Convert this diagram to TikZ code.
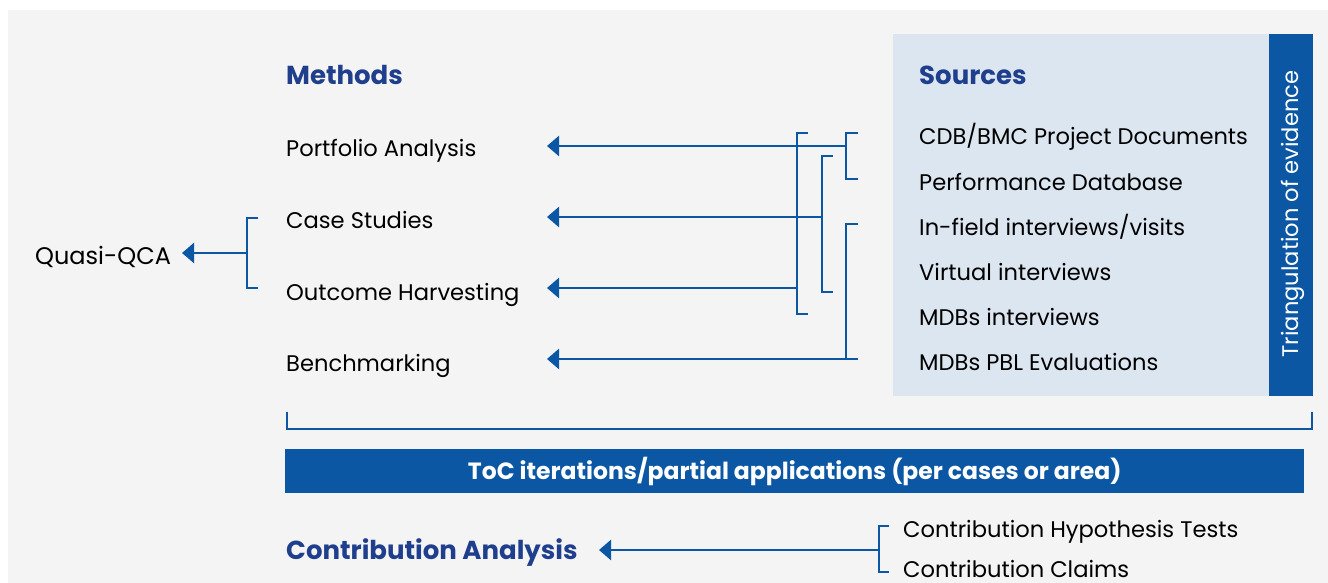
\documentclass[tikz,border=0pt]{standalone}
\usepackage{fontspec}
\setmainfont{Poppins}
\usetikzlibrary{arrows.meta}
\definecolor{pagebg}{HTML}{F4F4F4}
\definecolor{srcbg}{HTML}{DCE6F1}
\definecolor{lineblue}{HTML}{0B57A4}
\definecolor{headblue}{HTML}{1F3E8C}
\begin{document}
\begin{tikzpicture}[x=1pt,y=-1pt,
  conn/.style={draw=lineblue, line width=2.6pt},
  arr/.style={conn, -{Triangle[length=12pt,width=20pt]}},
  item/.style={anchor=base west, inner sep=0pt, font=\fontsize{22.6}{26}\selectfont, text=black},
  head/.style={anchor=base west, inner sep=0pt, font=\fontsize{26}{30}\selectfont\bfseries, text=headblue},
  band/.style={fill=lineblue, draw=none}]
\useasboundingbox (0,0) rectangle (1328,583);
\fill[white] (0,0) rectangle (1328,583);
\fill[pagebg] (8,10) rectangle (1328,583);
% sources panel
\fill[srcbg] (893,34) rectangle (1269,396);
\fill[lineblue] (1269,34) rectangle (1313,396);
\node[rotate=90, inner sep=0pt, text=white, font=\fontsize{22.6}{26}\selectfont] (tri) at (1293,214) {Triangulation of evidence};
% headings
\node[head] (methods) at (286,85) {Methods};
\node[head] (sources) at (919,85) {Sources};
% methods
\node[item] (pa) at (286,157) {Portfolio Analysis};
\node[item] (cs) at (286,228) {Case Studies};
\node[item] (oh) at (286,300) {Outcome Harvesting};
\node[item] (bm) at (286,371) {Benchmarking};
% sources
\node[item] (s1) at (919,145) {CDB/BMC Project Documents};
\node[item] (s2) at (919,190) {Performance Database};
\node[item] (s3) at (919,235) {In-field interviews/visits};
\node[item] (s4) at (919,280) {Virtual interviews};
\node[item] (s5) at (919,325) {MDBs interviews};
\node[item] (s6) at (919,370) {MDBs PBL Evaluations};
% quasi-QCA
\node[item, font=\fontsize{24}{28}\selectfont] (qqca) at (35,264) {Quasi-QCA};
% arrow tips
\coordinate (tpa) at (547,146);
\coordinate (tcs) at (547,217);
\coordinate (toh) at (547,288);
\coordinate (tbm) at (547,359);
\coordinate (tq) at (182,253);
\coordinate (tca) at (599,550);
% bracket B1 (x=797)
\coordinate (b1t) at (797,133);
\coordinate (b1b) at (797,314);
\draw[conn] ([xshift=11pt]b1t) -- (b1t) -- (b1b) -- ([xshift=11pt]b1b);
% bracket B2 (x=822)
\coordinate (b2t) at (822,156);
\coordinate (b2b) at (822,292);
\draw[conn] ([xshift=11pt]b2t) -- (b2t) -- (b2b) -- ([xshift=11pt]b2b);
% bracket B3 (x=846)
\coordinate (b3t) at (846,133);
\coordinate (b3b) at (846,179);
\draw[conn] ([xshift=12pt]b3t) -- (b3t) -- (b3b) -- ([xshift=12pt]b3b);
% bracket B4 (x=846)
\coordinate (b4t) at (846,224);
\coordinate (b4b) at (846,359);
\draw[conn] ([xshift=12pt]b4t) -- (b4t) -- (b4b);
% arrows to methods
\coordinate (apa) at (846,146);
\coordinate (acs) at (822,217);
\coordinate (aoh) at (797,288);
\coordinate (abm) at (858,359);
\draw[arr] (apa) -- (tpa);
\draw[arr] (acs) -- (tcs);
\draw[arr] (aoh) -- (toh);
\draw[arr] (abm) -- (tbm);
% quasi-QCA bracket
\coordinate (bqt) at (247,218);
\coordinate (bqb) at (247,288);
\coordinate (bqm) at (247,253);
\draw[conn] ([xshift=11pt]bqt) -- (bqt) -- (bqb) -- ([xshift=11pt]bqb);
\draw[arr] (bqm) -- (tq);
% long bracket
\coordinate (lbl) at (287,412);
\coordinate (lbr) at (1312,412);
\draw[conn] (lbl) -- (287,429) -- (1312,429) -- (lbr);
% ToC band
\node[band, minimum width=1019pt, minimum height=44pt, inner sep=0pt, anchor=north west] (toc) at (285,449) {};
\node[inner sep=0pt, text=white, font=\fontsize{23.5}{28}\selectfont\bfseries] (toctext) at (toc.center) {ToC iterations/partial applications (per cases or area)};
% contribution analysis
\node[head] (ca) at (286,559) {Contribution Analysis};
\node[item] (cht) at (903,537) {Contribution Hypothesis Tests};
\node[item] (ccl) at (903,577) {Contribution Claims};
\coordinate (bct) at (879,526);
\coordinate (bcb) at (879,572);
\coordinate (bcm) at (879,550);
\draw[conn] ([xshift=10pt]bct) -- (bct) -- (bcb) -- ([xshift=10pt]bcb);
\draw[arr] (bcm) -- (tca);
\end{tikzpicture}
\end{document}
